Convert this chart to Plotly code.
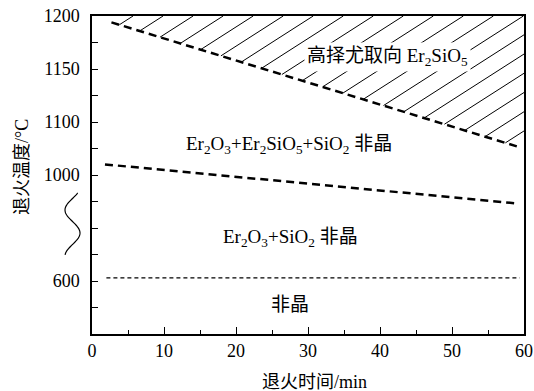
import numpy as np
import plotly.graph_objects as go

# ---- data (y values on the broken-axis display scale) ----
time_upper = [2.7, 59.0]
temp_upper = [1194, 1077]
time_mid = [1.8, 59.3]
temp_mid = [1060, 1023]
time_low = [2.0, 59.4]
temp_low = [953, 953]

x_ticks = [0, 10, 20, 30, 40, 50, 60]
y_tick_vals = [900, 925, 950, 975, 1000, 1025, 1050, 1075, 1100, 1125, 1150, 1175, 1200]
y_tick_text = ["", "", "600", "", "", "", "1000", "", "1100", "", "1150", "", "1200"]

labels = ["高择尤取向 Er<sub>2</sub>SiO<sub>5</sub>",
          "Er<sub>2</sub>O<sub>3</sub>+Er<sub>2</sub>SiO<sub>5</sub>+SiO<sub>2</sub> 非晶",
          "Er<sub>2</sub>O<sub>3</sub>+SiO<sub>2</sub> 非晶",
          "非晶"]
label_x = [41.1, 27.4, 27.6, 27.5]
label_y = [1161.3, 1078.3, 990.6, 927.4]

FONT = "Liberation Serif, Noto Sans CJK SC, serif"
W, H = 534, 391
PX0, PX1, PY0, PY1 = 92, 524, 16, 334   # plot area in page pixels
ML, MT = PX0, PY0
MR, MB = W - PX1, H - PY1
X0, X1 = 0, 60
Y0, Y1 = 900, 1200
pw, ph = PX1 - PX0, PY1 - PY0


def paper(px, py):
    return (px - PX0) / pw, 1 - (py - PY0) / ph


fig = go.Figure()

# hatch lines above the upper boundary (computed from boundary)
slope_b = (temp_upper[1] - temp_upper[0]) / (time_upper[1] - time_upper[0])
hatch_slope = 4.35
hx, hy = [], []
xt = 5.7
while True:
    xi = (Y1 - hatch_slope * xt - temp_upper[0] + slope_b * time_upper[0]) / (slope_b - hatch_slope)
    if xi >= X1:
        break
    yi = temp_upper[0] + slope_b * (xi - time_upper[0])
    if xt <= X1:
        xe, ye = xt, Y1
    else:
        xe, ye = X1, Y1 + hatch_slope * (X1 - xt)
    hx += [xi, xe, None]
    hy += [yi, ye, None]
    xt += 4.17

fig.add_trace(go.Scatter(x=hx, y=hy, mode="lines", line=dict(color="black", width=1),
                         hoverinfo="skip", showlegend=False))
fig.add_trace(go.Scatter(x=time_upper, y=temp_upper, mode="lines",
                         line=dict(color="black", width=2.5, dash="8px,5px"), showlegend=False))
fig.add_trace(go.Scatter(x=time_mid, y=temp_mid, mode="lines",
                         line=dict(color="black", width=2.5, dash="8px,5px"), showlegend=False))
fig.add_trace(go.Scatter(x=time_low, y=temp_low, mode="lines",
                         line=dict(color="black", width=1.2, dash="4px,3px"), showlegend=False))

for i, (t, x, y) in enumerate(zip(labels, label_x, label_y)):
    fig.add_annotation(x=x, y=y, text=t, showarrow=False, xref="x", yref="y",
                       xanchor="center", yanchor="middle",
                       font=dict(family=FONT, size=19, color="black"),
                       bgcolor="white" if i == 0 else "rgba(0,0,0,0)", borderpad=2)

# axis titles
ax, ay = paper(22, 167)
fig.add_annotation(x=ax, y=ay, xref="paper", yref="paper", text="退火温度/°C", textangle=-90,
                   xanchor="center", yanchor="middle",
                   showarrow=False, font=dict(family=FONT, size=18, color="black"))
bx, by = paper(314, 382)
fig.add_annotation(x=bx, y=by, xref="paper", yref="paper", text="退火时间/min",
                   xanchor="center", yanchor="middle",
                   showarrow=False, font=dict(family=FONT, size=18, color="black"))

# axis-break squiggle (pixel geometry -> paper coords)
theta = np.linspace(-0.24 * np.pi, 2.45 * np.pi, 60)
sy = 210 + (theta - np.pi / 2) / np.pi * 23
sx = 72.5 - 7.5 * np.sin(theta)
pts = [paper(a, b) for a, b in zip(sx, sy)]
path = "M " + " L ".join(f"{a:.5f},{b:.5f}" for a, b in pts)
fig.add_shape(type="path", path=path, xref="paper", yref="paper",
              line=dict(color="black", width=1.2))

fig.update_xaxes(range=[X0, X1], tickvals=x_ticks, ticks="inside", ticklen=7, tickwidth=1.2,
                 minor=dict(dtick=5, tick0=0, ticks="inside", ticklen=4, tickwidth=1.2, tickcolor="black"),
                 showline=True, linecolor="black", linewidth=1.5, mirror=True, showgrid=False,
                 ticklabeloverflow="allow",
                 zeroline=False, tickfont=dict(family=FONT, size=18, color="black"), tickcolor="black")
fig.update_yaxes(range=[Y0, Y1], tickvals=y_tick_vals, ticktext=y_tick_text, ticks="inside",
                 ticklen=6, tickwidth=1.2, tickcolor="black", ticklabelstandoff=7,
                 ticklabeloverflow="allow",
                 showline=True, linecolor="black", linewidth=1.5, mirror=True, showgrid=False,
                 zeroline=False, tickfont=dict(family=FONT, size=18, color="black"))

fig.update_layout(width=W, height=H, margin=dict(l=ML, r=MR, t=MT, b=MB, autoexpand=False),
                  plot_bgcolor="white", paper_bgcolor="white")
fig.write_html("out.html", config={"displayModeBar": False},
               post_script="document.body.style.margin='0px';document.body.style.overflow='hidden';")
